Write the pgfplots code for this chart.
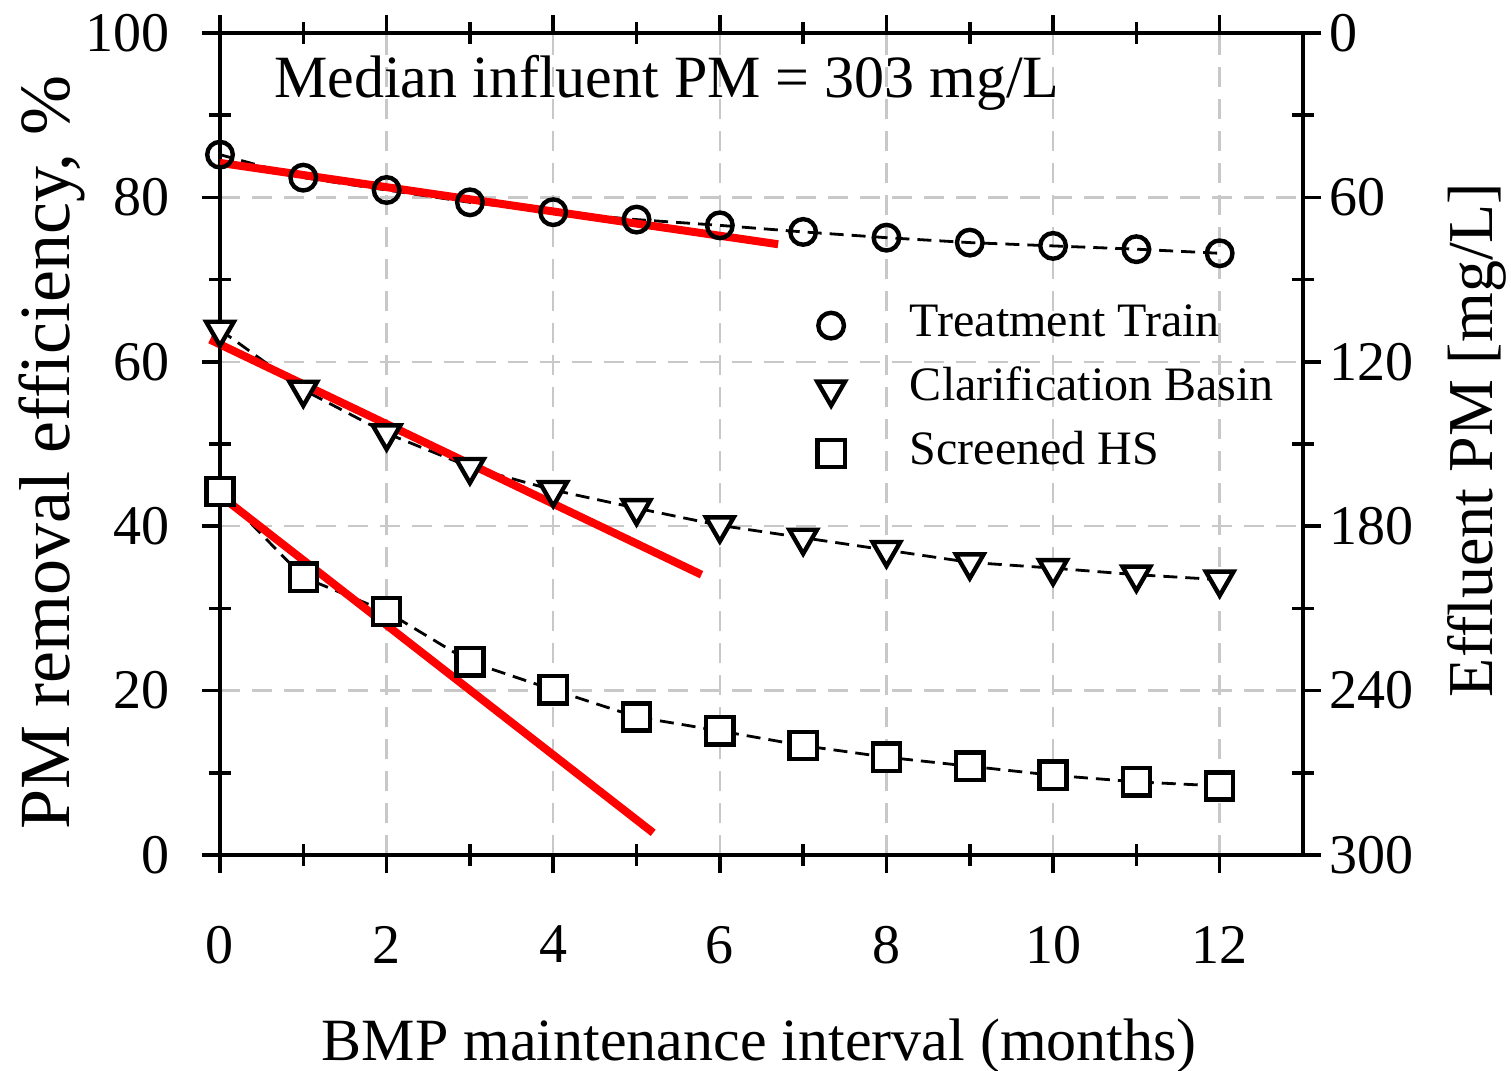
\documentclass[border=0pt]{standalone}
\usepackage{fontspec}
\setmainfont{Liberation Serif}
\usepackage{pgfplots}
\pgfplotsset{compat=1.18}
\usetikzlibrary{calc}
\definecolor{gridgray}{RGB}{200,200,200}
\definecolor{fitred}{RGB}{255,0,0}

\pgfplotsset{
  base/.style={
    scale only axis, width=270.75pt, height=205.5pt,
    xmin=0, xmax=13, clip=false,
    /pgf/number format/assume math mode=true,
    tick label style={font=\fontsize{14}{16}\selectfont},
    every tick/.style={black, line width=0.9pt},
    axis line style={line width=1pt},
  },
  series/.style={dash pattern=on 3.5pt off 2pt, line width=0.7pt, black, forget plot},
}

\begin{document}
\begin{tikzpicture}
% main axis: removal efficiency
\begin{axis}[base,
  ymin=0, ymax=100,
  separate axis lines,
  axis x line*=box, axis y line*=left,
  x axis line style={shorten <=-3.75pt, shorten >=-3.75pt},
  xtick={0,2,...,12}, ytick={0,20,...,100},
  xtick pos=both, xticklabel pos=bottom,
  tick align=outside, major tick length=4.5pt,
  xticklabel style={yshift=-9.75pt},
  yticklabel style={xshift=-4.5pt},
  grid=major, major grid style={gridgray, dash pattern=on 5pt off 3pt, line width=0.6pt},
  every axis x label/.style={at={(rel axis cs:0.498,-0.25)}, anchor=base, font=\fontsize{15}{18}\selectfont},
  every axis y label/.style={at={(rel axis cs:-0.1385,0.49)}, anchor=base, rotate=90, font=\fontsize{18}{21}\selectfont},
  xlabel={BMP maintenance interval (months)},
  ylabel={PM removal efficiency, \%},
  legend style={at={(axis cs:7.16,67.3)}, anchor=north west, draw=none, fill=none,
    inner sep=0pt, font=\fontsize{12}{14}\selectfont, row sep=4.5pt, column sep=16.25pt,
    nodes={inner sep=0pt, text height=8.5pt, text depth=3pt}},
  legend cell align=left,
  legend image code/.code={\draw[mark repeat=2,mark phase=2] plot coordinates {(0pt,0pt) (10pt,0pt) (20pt,0pt)};},
]
\addplot[series] coordinates {(0,85.2) (1,82.4) (2,80.9) (3,79.4) (4,78.2) (5,77.3) (6,76.6) (7,75.8) (8,75.1) (9,74.5) (10,74.1) (11,73.7) (12,73.2)};
\addplot[series] coordinates {(0,63.9) (1,56.6) (2,51.3) (3,47.2) (4,44.4) (5,42.2) (6,40.1) (7,38.6) (8,37.1) (9,35.6) (10,34.9) (11,34.1) (12,33.5)};
\addplot[series] coordinates {(0,44.2) (1,33.8) (2,29.6) (3,23.5) (4,20.1) (5,16.8) (6,15.1) (7,13.3) (8,11.9) (9,10.8) (10,9.7) (11,8.9) (12,8.4)};
\addplot[only marks, mark=o, mark size=3.2pt, mark options={line width=1.1pt, fill=white, draw=black}] coordinates {(0,85.2) (1,82.4) (2,80.9) (3,79.4) (4,78.2) (5,77.3) (6,76.6) (7,75.8) (8,75.1) (9,74.5) (10,74.1) (11,73.7) (12,73.2)};
\addlegendentry{Treatment Train}
\addplot[only marks, mark=triangle*, mark size=4pt, mark options={rotate=180, line width=1.1pt, fill=white, draw=black}] coordinates {(0,63.9) (1,56.6) (2,51.3) (3,47.2) (4,44.4) (5,42.2) (6,40.1) (7,38.6) (8,37.1) (9,35.6) (10,34.9) (11,34.1) (12,33.5)};
\addlegendentry{Clarification Basin}
\addplot[only marks, mark=square*, mark size=3.4pt, mark options={line width=1.1pt, fill=white, draw=black}] coordinates {(0,44.2) (1,33.8) (2,29.6) (3,23.5) (4,20.1) (5,16.8) (6,15.1) (7,13.3) (8,11.9) (9,10.8) (10,9.7) (11,8.9) (12,8.4)};
\addlegendentry{Screened HS}
% red trend lines
\addplot[fitred, line width=2pt, forget plot] coordinates {(0,84.2) (6.7,74.3)};
\addplot[fitred, line width=2pt, forget plot] coordinates {(-0.12,62.7) (5.78,34.1)};
\addplot[fitred, line width=2pt, forget plot] coordinates {(0.02,43.6) (5.2,2.7)};
\node[anchor=base west, font=\fontsize{15}{18}\selectfont, inner sep=0pt] at (axis cs:0.64,92.1) {Median influent PM = 303 mg/L};
\end{axis}
% minor ticks crossing the axis lines
\begin{axis}[base,
  ymin=0, ymax=100,
  axis line style={draw=none},
  xtick={1,3,...,11}, ytick={10,30,...,90},
  xticklabels={}, yticklabels={},
  xtick pos=both, ytick pos=both,
  tick align=center, major tick length=5.5pt,
]
\end{axis}
% right axis: effluent PM
\begin{axis}[base,
  ymin=0, ymax=300, y dir=reverse,
  axis x line=none, axis y line*=right,
  ytick={0,60,...,300},
  tick align=outside, major tick length=4.5pt,
  yticklabel style={xshift=-1.5pt},
  every axis y label/.style={at={(rel axis cs:1.175,0.505)}, anchor=base, rotate=90, font=\fontsize{16}{19}\selectfont},
  ylabel={Effluent PM [mg/L]},
]
\end{axis}
\pgfresetboundingbox
\path ($(current axis.south west)+(-55pt,-54pt)$) rectangle ($(current axis.north east)+(52pt,8.25pt)$);
\end{tikzpicture}
\end{document}
